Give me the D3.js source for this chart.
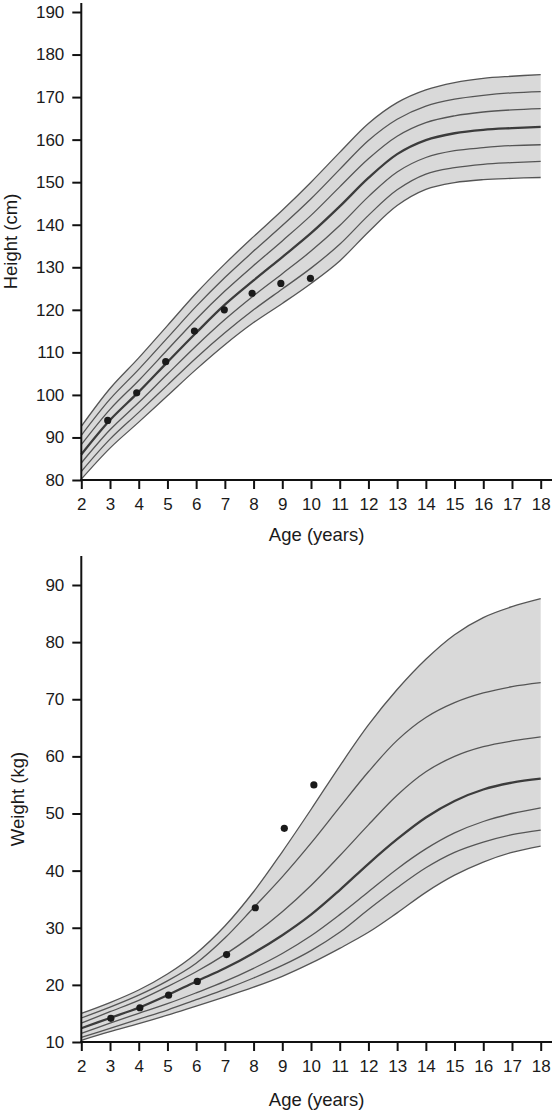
<!DOCTYPE html>
<html><head><meta charset="utf-8">
<script src="https://cdn.jsdelivr.net/npm/d3@7"></script>
<style>
body{margin:0;background:#fff}
svg{display:block}
text{font-family:"Liberation Sans",Arial,sans-serif;fill:#1a1a1a}
</style>
</head><body>
<svg id="c" width="553" height="1111"></svg>
<script>
// ---- data ----
const ages = [2,3,4,5,6,7,8,9,10,11,12,13,14,15,16,17,18];
const ageTicks = [2,3,4,5,6,7,8,9,10,11,12,13,14,15,16,17,18];

// Height percentile curves (cm): P3, P10, P25, P50, P75, P90, P97
const heightP3  = [80.2,87.5,93.6,99.8,106.0,111.8,117.0,121.5,126.2,131.5,138.3,144.5,148.3,149.9,150.6,150.9,151.1];
const heightP10 = [82.0,89.6,95.9,102.3,108.7,114.6,120.0,124.9,129.8,135.4,142.2,148.2,151.9,153.4,154.2,154.6,154.9];
const heightP25 = [84.0,91.8,98.2,104.9,111.5,117.7,123.3,128.5,133.8,139.8,146.6,152.4,155.8,157.4,158.1,158.6,158.8];
const heightP50 = [86.0,94.1,100.7,107.7,114.6,121.2,126.9,132.4,138.0,144.3,151.0,156.6,159.9,161.5,162.3,162.7,163.0];
const heightP75 = [88.3,96.6,103.4,110.6,117.8,124.4,130.4,136.2,142.2,148.9,155.5,160.8,164.0,165.6,166.5,167.0,167.3];
const heightP90 = [90.5,99.0,106.0,113.4,120.8,127.6,133.8,139.8,146.1,153.0,159.8,164.8,167.9,169.5,170.4,171.0,171.3];
const heightP97 = [92.6,101.5,108.7,116.3,123.9,130.8,137.2,143.4,150.0,157.0,163.8,168.7,171.7,173.4,174.4,174.9,175.3];
const heightTicks = [80,90,100,110,120,130,140,150,160,170,180,190];
const childHeightAge = [2.92,3.93,4.94,5.94,6.98,7.95,8.95,9.98];
const childHeight    = [94.0,100.5,107.8,115.0,120.0,123.9,126.2,127.4];

// Weight percentile curves (kg)
const weightP3  = [10.3,11.8,13.2,14.7,16.3,17.9,19.6,21.5,23.8,26.4,29.2,32.6,36.2,39.2,41.5,43.2,44.3];
const weightP10 = [10.8,12.4,14.0,15.6,17.4,19.2,21.2,23.4,26.0,29.2,33.2,37.0,40.5,43.2,45.0,46.3,47.1];
const weightP25 = [11.5,13.3,15.0,16.7,18.6,20.6,22.9,25.5,28.6,32.3,36.3,40.3,43.8,46.6,48.6,50.0,51.0];
const weightP50 = [12.4,14.2,16.0,18.2,20.6,22.9,25.6,28.7,32.3,36.6,41.2,45.5,49.3,52.2,54.2,55.4,56.1];
const weightP75 = [13.3,15.3,17.3,19.7,22.3,25.3,28.8,32.8,37.4,42.6,48.0,53.2,57.3,60.0,61.7,62.7,63.4];
const weightP90 = [14.2,16.1,18.2,20.7,23.8,28.2,33.5,38.9,44.8,51.1,57.3,62.8,66.8,69.4,71.1,72.2,72.9];
const weightP97 = [15.0,16.9,19.1,21.9,25.5,30.3,36.3,43.3,50.7,58.3,65.5,71.7,77.0,81.3,84.3,86.2,87.6];
const weightTicks = [10,20,30,40,50,60,70,80,90];
const childWeightAge = [3.03,4.04,5.04,6.04,7.06,8.06,9.07,10.1];
const childWeight    = [14.15,16.0,18.2,20.6,25.3,33.5,47.4,55.0];

// ---- drawing ----
const svg = d3.select("#c");

function panel(o){
  const x = d3.scaleLinear().domain([2,18]).range([81.3,540.7]);
  const y = d3.scaleLinear().domain(o.yDomain).range(o.yRange);
  const g = svg.append("g");
  const rows = ages.map((a,i)=>({age:a, v:o.series.map(s=>s[i])}));
  const curve = d3.curveCatmullRom.alpha(0.5);

  g.append("path").datum(rows)
    .attr("d", d3.area().curve(curve).x(d=>x(d.age)).y0(d=>y(d.v[0])).y1(d=>y(d.v[6])))
    .attr("fill","#d9d9d9");

  o.series.forEach((s,k)=>{
    g.append("path").datum(rows)
      .attr("d", d3.line().curve(curve).x(d=>x(d.age)).y(d=>y(d.v[k])))
      .attr("fill","none")
      .attr("stroke", k===3 ? "#3c3c3c" : "#555")
      .attr("stroke-width", k===3 ? 2.3 : 1.3);
  });

  g.selectAll("circle.pt").data(o.ptAge).join("circle")
    .attr("cx",(d)=>x(d)).attr("cy",(d,i)=>y(o.ptVal[i])).attr("r",3.6)
    .attr("fill","#1a1a1a");

  // axes
  const ya = g.append("g").attr("transform",`translate(${x.range()[0]},0)`)
    .call(d3.axisLeft(y).tickValues(o.yTicks).tickSize(9).tickPadding(8).tickFormat(d3.format("d")));
  const xa = g.append("g").attr("transform",`translate(0,${y.range()[0]})`)
    .call(d3.axisBottom(x).tickValues(ageTicks).tickSize(9).tickPadding(9).tickFormat(d3.format("d")));
  [ya,xa].forEach(a=>{
    a.select(".domain").remove();
    a.selectAll("line").attr("stroke","#111").attr("stroke-width",2);
    a.selectAll("text").attr("font-size",17).attr("fill","#1a1a1a")
      .attr("font-family","'Liberation Sans',Arial,sans-serif");
  });
  const x0 = x.range()[0], y0 = y.range()[0];
  g.append("line").attr("x1",x0).attr("x2",x0).attr("y1",y0+1).attr("y2",o.yTop)
    .attr("stroke","#111").attr("stroke-width",2);
  g.append("line").attr("x1",x0-1).attr("x2",552).attr("y1",y0).attr("y2",y0)
    .attr("stroke","#111").attr("stroke-width",2);

  g.append("text").attr("x",(x0+552)/2).attr("y",o.xLabelY)
    .attr("text-anchor","middle").attr("font-size",18.5).text("Age (years)");
  g.append("text")
    .attr("transform",`translate(${o.yLabelX},${(y0+o.yTop)/2}) rotate(-90)`)
    .attr("text-anchor","middle").attr("font-size",18.5).text(o.yLabel);
}

panel({
  yDomain:[80,190], yRange:[480,12], yTop:3, yTicks:heightTicks,
  series:[heightP3,heightP10,heightP25,heightP50,heightP75,heightP90,heightP97],
  ptAge:childHeightAge, ptVal:childHeight,
  yLabel:"Height (cm)", yLabelX:17, xLabelY:541
});
panel({
  yDomain:[10,90], yRange:[1042,585], yTop:556, yTicks:weightTicks,
  series:[weightP3,weightP10,weightP25,weightP50,weightP75,weightP90,weightP97],
  ptAge:childWeightAge, ptVal:childWeight,
  yLabel:"Weight (kg)", yLabelX:24, xLabelY:1106
});
</script>
</body></html>
